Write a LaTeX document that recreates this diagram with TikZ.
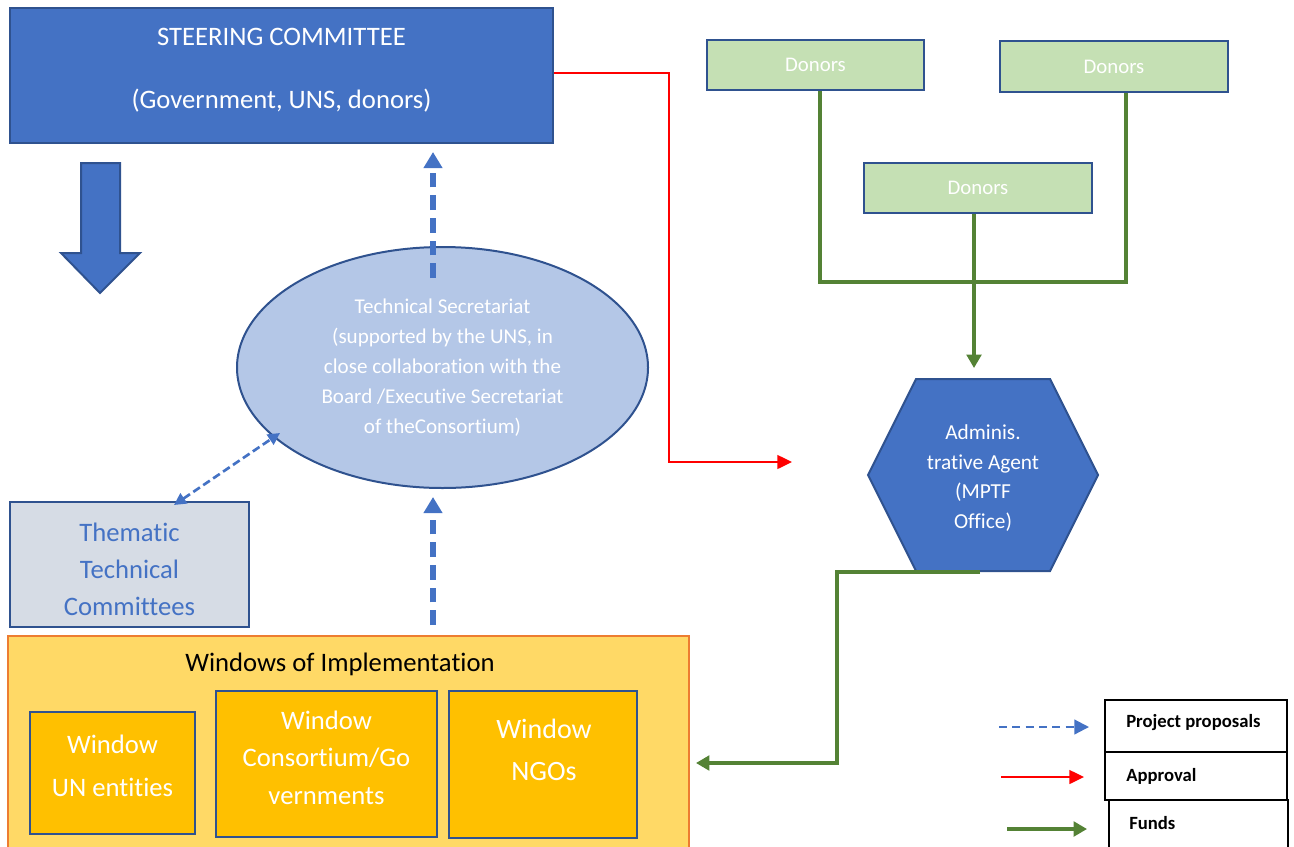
\documentclass[tikz,border=0pt]{standalone}
\usepackage{fontspec}
\setmainfont{Carlito}[Ligatures={NoCommon},RawFeature={-liga;-clig}]
\usetikzlibrary{arrows.meta,shapes.geometric}
\definecolor{mblue}{HTML}{4472C4}
\definecolor{dblue}{HTML}{2F528F}
\definecolor{lblue}{HTML}{B4C7E7}
\definecolor{lgray}{HTML}{D6DCE5}
\definecolor{lyel}{HTML}{FFD966}
\definecolor{orng}{HTML}{ED7D31}
\definecolor{gold}{HTML}{FFC000}
\definecolor{lgreen}{HTML}{C5E0B4}
\definecolor{dgreen}{HTML}{548235}
\newcommand{\fsz}[2]{\fontsize{#1}{#2}\selectfont}
\begin{document}
\begin{tikzpicture}[x=0.75pt,y=-0.75pt,
  box/.style={draw=dblue,line width=1.5pt,inner sep=0pt},
  txtw/.style={text=white,inner sep=0pt,align=center},
  legbox/.style={draw=black,line width=1.5pt,inner sep=0pt},
  legtxt/.style={anchor=west,inner sep=0pt,font=\fsz{14}{16}\bfseries},
  propthick/.style={draw=mblue,line width=4pt,dash pattern=on 11pt off 6pt,-{Triangle[length=12pt,width=13.5pt]}},
  propthin/.style={draw=mblue,line width=2pt,dash pattern=on 6pt off 3pt,{Triangle[length=9pt,width=9pt]}-{Triangle[length=9pt,width=9pt]}},
  proplegend/.style={draw=mblue,line width=1.6pt,dash pattern=on 6pt off 4pt,-{Triangle[length=11pt,width=11pt]}},
  approval/.style={draw=red,line width=1pt,-{Triangle[length=11pt,width=10.5pt]}},
  funds/.style={draw=dgreen,line width=2.3pt,-{Triangle[length=10pt,width=11pt]}},
  fundline/.style={draw=dgreen,line width=2.3pt}
]
\useasboundingbox (0,0) rectangle (1294,846);

% Steering committee
\node[box,fill=mblue,minimum width=407.25pt,minimum height=101.25pt] (sc) at (281.5,75.5) {};
\node[txtw,font=\fsz{20}{24}] (sct1) at (281.5,37) {STEERING COMMITTEE};
\node[txtw,font=\fsz{20}{24}] (sct2) at (281.5,101) {(Government, UNS, donors)};

% block arrow down
\draw[draw=dblue,fill=mblue,line width=1.5pt,line join=miter]
  (81,163) -- (120,163) -- (120,253) -- (140,253) -- (100,293) -- (61,253) -- (81,253) -- cycle;

% Technical secretariat
\node[ellipse,draw=dblue,line width=1.5pt,fill=lblue,minimum width=308.25pt,minimum height=180.75pt,inner sep=0pt,
      text=white,align=center,font=\fsz{15.8}{22.5}] (ts) at (442.5,367.5)
  {Technical Secretariat\\(supported by the UNS, in\\close collaboration with the\\Board /Executive Secretariat\\of theConsortium)};

% Thematic technical committees
\node[box,fill=lgray,minimum width=179.25pt,minimum height=93.75pt] (ttc) at (129.5,564.5) {};
\node[inner sep=0pt,align=center,text=mblue,font=\fsz{20}{27.75}] (ttct) at (129.5,569) {Thematic\\Technical\\Committees};

% Windows of implementation
\node[draw=orng,line width=1.5pt,fill=lyel,minimum width=510.75pt,minimum height=162pt,inner sep=0pt] (woi) at (348.5,744) {};
\node[inner sep=0pt,font=\fsz{20}{24}] (woit) at (340,664) {Windows of Implementation};
\node[box,fill=gold,minimum width=123.75pt,minimum height=91.5pt] (wun) at (112.5,773) {};
\node[txtw,font=\fsz{20}{32.25}] (wunt) at (112.5,765.5) {Window\\UN entities};
\node[box,fill=gold,minimum width=165.75pt,minimum height=109.5pt] (wcg) at (326.5,764) {};
\node[txtw,font=\fsz{20}{28.1}] (wcgt) at (326.5,757.5) {Window\\Consortium/Go\\vernments};
\node[box,fill=gold,minimum width=141pt,minimum height=110.25pt] (wngo) at (543,764.5) {};
\node[txtw,font=\fsz{21}{31.5}] (wngot) at (544,750) {Window\\NGOs};

% Donors
\node[box,fill=lgreen,minimum width=162.75pt,minimum height=37.5pt,text=white,font=\fsz{15.6}{18}] (d1) at (815.5,65) {Donors};
\node[box,fill=lgreen,minimum width=171pt,minimum height=38.25pt,text=white,font=\fsz{15.6}{18}] (d2) at (1114,66.5) {Donors};
\node[box,fill=lgreen,minimum width=171pt,minimum height=37.5pt,text=white,font=\fsz{15.6}{18}] (d3) at (978,188) {Donors};

% Administrative agent hexagon
\coordinate (hL) at (868,475);
\coordinate (hTL) at (916,379);
\coordinate (hTR) at (1050,379);
\coordinate (hR) at (1098,475);
\coordinate (hBR) at (1050,571);
\coordinate (hBL) at (916,571);
\draw[draw=dblue,fill=mblue,line width=1.5pt] (hL) -- (hTL) -- (hTR) -- (hR) -- (hBR) -- (hBL) -- cycle;
\node[txtw,font=\fsz{16}{22.3}] (hex) at (983,478) {Adminis.\\trative Agent\\(MPTF\\Office)};

% project proposal arrows
\coordinate (u1s) at (433,278);
\coordinate (u1e) at (433,152);
\draw[propthick] (u1s) -- (u1e);
\coordinate (u2s) at (433,625);
\coordinate (u2e) at (433,497);
\draw[propthick] (u2s) -- (u2e);
\coordinate (dbA) at (174,505);
\coordinate (dbB) at (280,433);
\draw[propthin] (dbA) -- (dbB);

% approval
\coordinate (r1) at (669,73);
\coordinate (redend) at (792,462);
\draw[approval] (sc.east |- r1) -- (r1) -- (r1 |- redend) -- (redend);

% donors funds
\coordinate (jL) at (820,282);
\coordinate (jR) at (1126,282);
\draw[fundline] (d1.south -| jL) -- (jL) -- (jR) -- (d2.south -| jR);
\coordinate (t3) at (974,368);
\draw[funds] (d3.south -| t3) -- (t3);

% funds to windows
\coordinate (f0) at (980,572);
\coordinate (f1) at (837,572);
\coordinate (f2) at (837,763);
\coordinate (fend) at (696,763);
\draw[funds] (f0) -- (f1) -- (f2) -- (fend);

% legend
\node[legbox,minimum width=136.5pt,minimum height=39pt] (lp) at (1196,726) {};
\node[legbox,minimum width=136.5pt,minimum height=36pt] (la) at (1196,776) {};
\node[legbox,minimum width=134.25pt,minimum height=37.5pt] (lf) at (1198.5,825) {};
\node[legtxt] (lpt) at (1126,723) {Project proposals};
\node[legtxt] (lat) at (1126,776) {Approval};
\node[legtxt] (lft) at (1129,823) {Funds};
\coordinate (lbs) at (999,727);
\coordinate (lbe) at (1089,727);
\draw[proplegend] (lbs) -- (lbe);
\coordinate (lrs) at (1001,777);
\coordinate (lre) at (1084,777);
\draw[approval] (lrs) -- (lre);
\coordinate (lgs) at (1007,829);
\coordinate (lge) at (1087,829);
\draw[funds] (lgs) -- (lge);
\end{tikzpicture}
\end{document}
